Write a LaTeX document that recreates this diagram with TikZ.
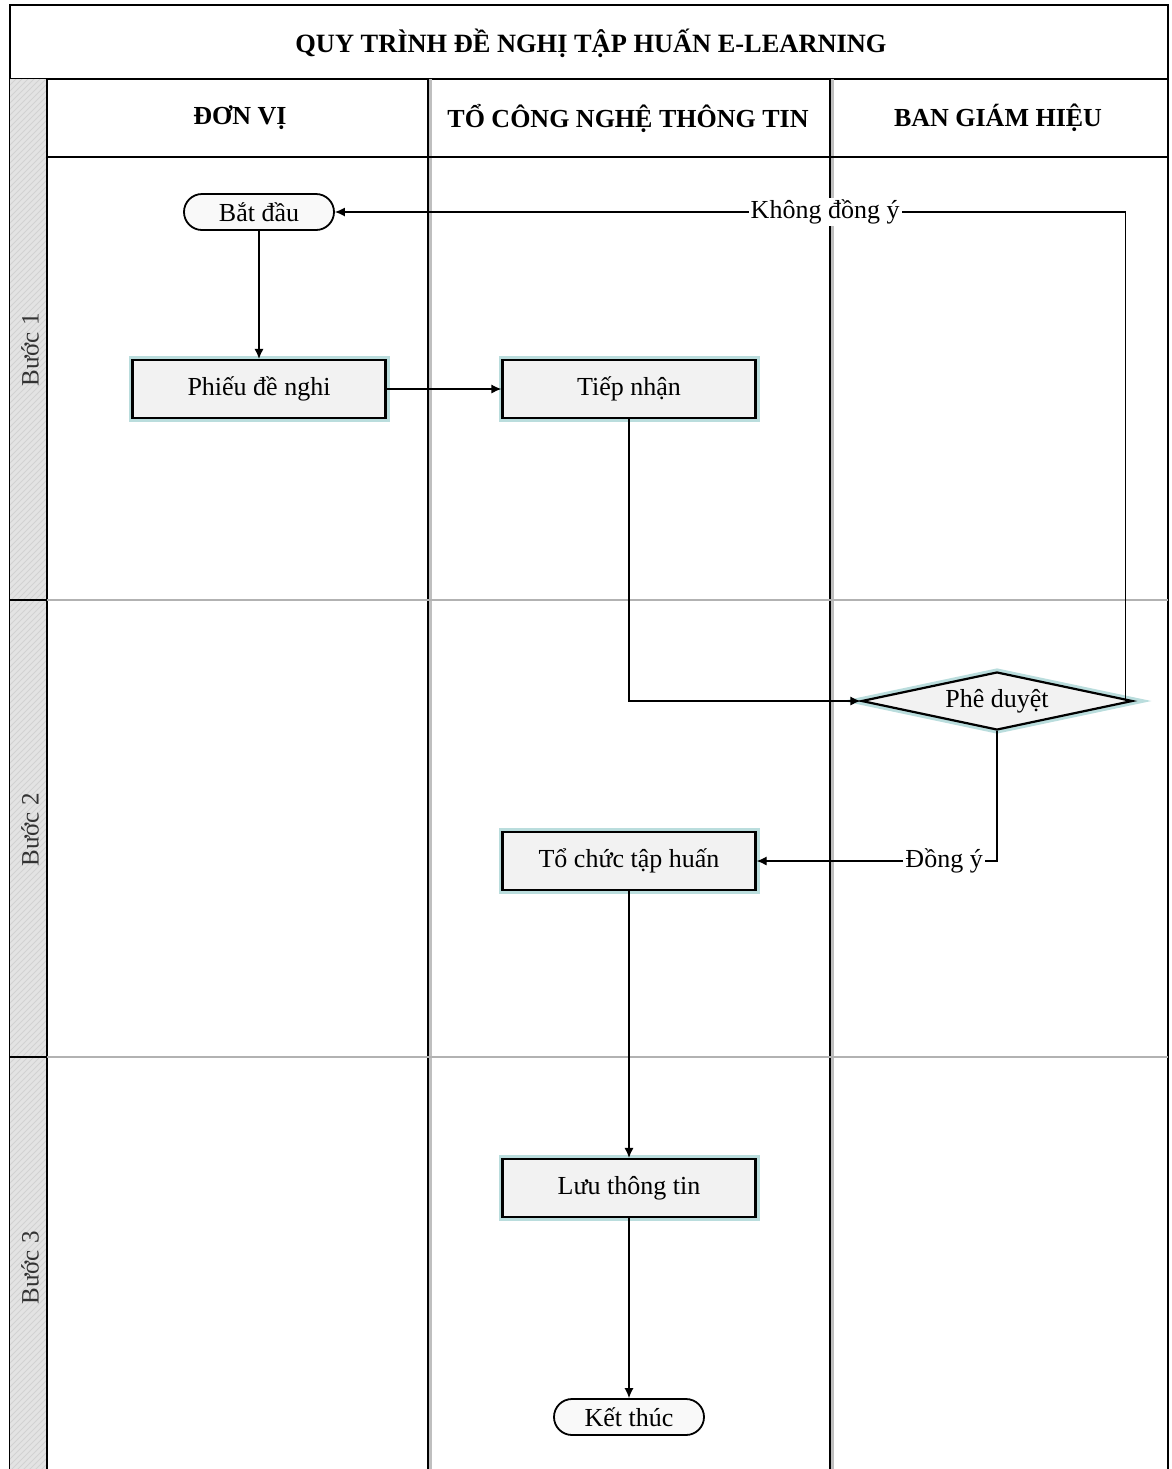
\documentclass[tikz,border=0pt]{standalone}
\usepackage{fontspec}
\setmainfont{Liberation Serif}
\usetikzlibrary{shapes.geometric,arrows.meta,patterns}

\begin{document}
\begin{tikzpicture}[x=0.5pt,y=-0.5pt,
    glow/.style={preaction={draw=teal!45,line width=4pt,opacity=0.6}},
    stepbox/.style={draw,line width=1.1pt,fill=gray!10,glow,minimum width=126.5pt,minimum height=29pt,inner sep=0pt,font=\fontsize{13}{15}\selectfont},
    endbox/.style={draw,line width=0.9pt,fill=gray!5,rounded corners=9pt,minimum width=75pt,minimum height=18pt,inner sep=0pt,font=\fontsize{13}{15}\selectfont},
    choice/.style={diamond,aspect=4.6,draw,line width=1.1pt,fill=gray!10,glow,minimum width=135.5pt,minimum height=29pt,inner sep=0pt,font=\fontsize{13}{15}\selectfont},
    lanehead/.style={font=\bfseries\fontsize{13}{15}\selectfont},
    rowlabel/.style={rotate=90,text=black!80,font=\fontsize{12.5}{14}\selectfont},
    flow/.style={-{Latex[length=5pt,width=4.5pt]},line width=0.6pt},
    answer/.style={fill=white,inner sep=1pt,font=\fontsize{13}{15}\selectfont}]

    \useasboundingbox (0,0) rectangle (1172,1469);

    % Title band
    \draw[line width=0.8pt] (10,1469) -- (10,5) -- (1168,5) -- (1168,1469);
    \draw[line width=0.8pt] (10,79) -- (1168,79);
    \node[font=\bfseries\fontsize{13.2}{15}\selectfont] (title) at (591,43) {QUY TRÌNH ĐỀ NGHỊ TẬP HUẤN E-LEARNING};

    % Step band on the left
    \fill[gray!22] (10,79) rectangle (47,1469);
    \fill[pattern=north east lines,pattern color=gray!35] (10,79) rectangle (47,1469);
    \draw[line width=0.8pt] (47,79) -- (47,1469);

    % Lane dividers and rows
    \draw[gray!50,line width=2pt] (430,79) -- (430,1469);
    \draw[gray!50,line width=2pt] (832,79) -- (832,1469);
    \draw[line width=0.9pt] (428,79) -- (428,1469);
    \draw[line width=0.9pt] (830,79) -- (830,1469);
    \draw[line width=0.9pt] (47,157) -- (1168,157);
    \draw[gray!60,line width=0.6pt] (47,600) -- (1168,600);
    \draw[gray!60,line width=0.6pt] (47,1057) -- (1168,1057);
    \draw[line width=0.6pt] (10,600) -- (47,600);
    \draw[line width=0.6pt] (10,1057) -- (47,1057);

    % Lane headers
    \node[lanehead] (donvi) at (240,118) {ĐƠN VỊ};
    \node[lanehead] (tocntt) at (628,118) {TỔ CÔNG NGHỆ THÔNG TIN};
    \node[lanehead] (bgh) at (998,118) {BAN GIÁM HIỆU};

    % Row labels
    \node[rowlabel] (buoc1) at (30,350) {Bước 1};
    \node[rowlabel] (buoc2) at (30,830) {Bước 2};
    \node[rowlabel] (buoc3) at (30,1268) {Bước 3};

    % Steps
    \node[endbox] (batdau) at (259,212) {Bắt đầu};
    \node[stepbox] (phieu) at (259,389) {Phiếu đề nghi};
    \node[stepbox] (tiepnhan) at (629,389) {Tiếp nhận};
    \node[choice] (pheduyet) at (997,701) {Phê duyệt};
    \node[stepbox] (tochuc) at (629,861) {Tổ chức tập huấn};
    \node[stepbox] (luu) at (629,1188) {Lưu thông tin};
    \node[endbox] (ketthuc) at (629,1417) {Kết thúc};

    % Connectors
    \draw[flow] (batdau) -- (phieu);
    \draw[flow] (phieu) -- (tiepnhan);
    \draw[flow] (tiepnhan.south) |- (pheduyet.west);
    \draw[flow] ([xshift=-4pt]pheduyet.east) |- node[answer,pos=0.69] {Không đồng ý} (batdau.east);
    \draw[flow] (pheduyet.south) |- node[answer,pos=0.61] {Đồng ý} (tochuc.east);
    \draw[flow] (tochuc) -- (luu);
    \draw[flow] (luu) -- (ketthuc);

\end{tikzpicture}
\end{document}
